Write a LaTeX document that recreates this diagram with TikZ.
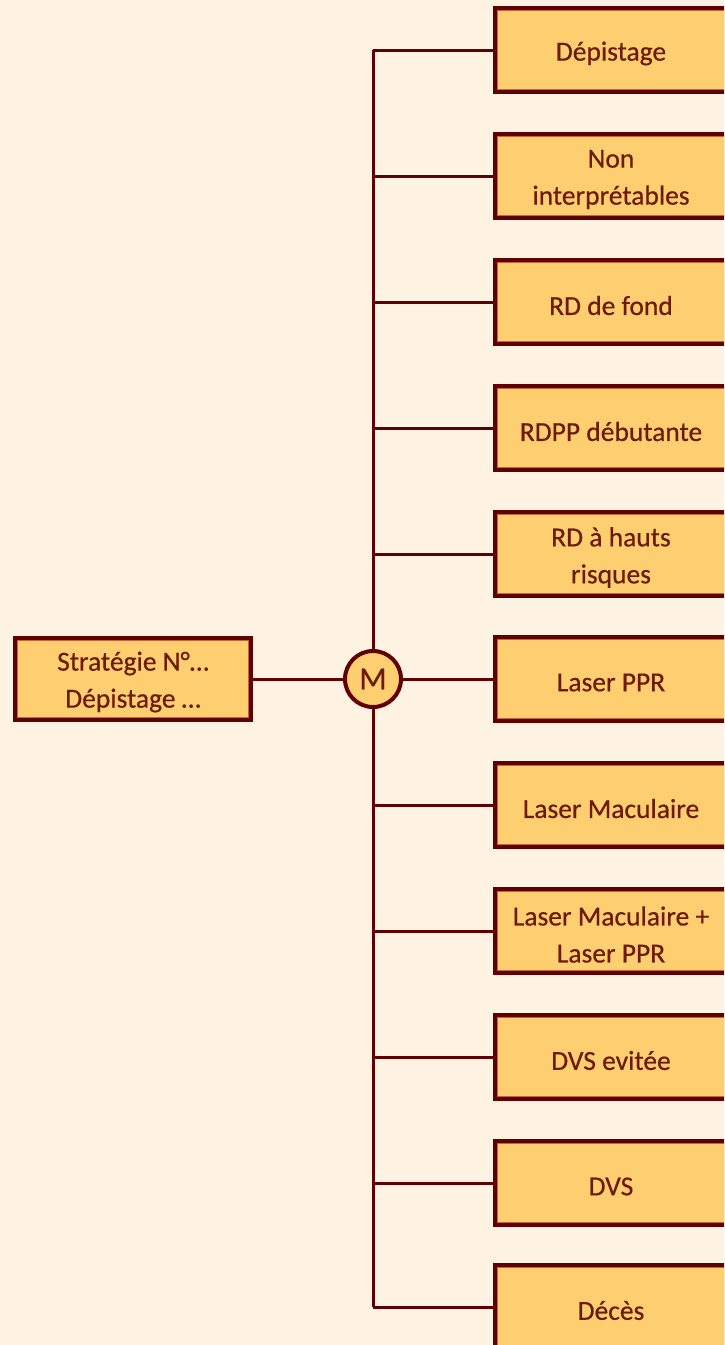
\documentclass[tikz,border=0pt]{standalone}
\usepackage{fontspec}
\setmainfont{Carlito}
\newfontfamily\boxfont[FakeBold=0.5]{Carlito}
\definecolor{bgcream}{HTML}{FEF2E3}
\definecolor{boxfill}{HTML}{FDCF70}
\definecolor{maroon}{HTML}{600000}
\definecolor{innerline}{HTML}{C0692E}
\definecolor{txtcol}{HTML}{6E1A05}
\tikzset{
  leafbox/.style={draw=maroon, line width=4pt, fill=boxfill, rectangle,
    minimum width=232pt, minimum height=84pt, inner sep=0pt,
    path picture={\draw[innerline, line width=1.2pt]
      ([shift={(2.6pt,-2.6pt)}]path picture bounding box.north west) rectangle
      ([shift={(-2.6pt,2.6pt)}]path picture bounding box.south east);}},
  rootbox/.style={leafbox, line width=4.5pt, minimum width=236pt, minimum height=82pt},
  boxtext/.style={align=center, text=txtcol, inner sep=0pt,
    font=\boxfont\fontsize{27.5pt}{37pt}\selectfont},
  hub/.style={circle, draw=maroon, line width=4pt, fill=boxfill,
    minimum size=56pt, inner sep=0pt, text=txtcol,
    font=\boxfont\fontsize{32pt}{37pt}\selectfont},
  link/.style={draw=maroon, line width=3pt}
}
\begin{document}
\begin{tikzpicture}[x=1pt, y=-1pt]
  \fill[bgcream] (0,0) rectangle (724,1345);
  \useasboundingbox (0,0) rectangle (724,1345);
  \clip (0,0) rectangle (724,1345);

  % root box, spine and hub
  \node[rootbox] (root) at (133,679) {};
  \node[boxtext] (roottext) at ([yshift=-3pt]root.center) {Stratégie N°…\\Dépistage …};
  \coordinate (top) at (373,50);
  \coordinate (bot) at (373,1307);
  \draw[link] (top) -- (bot);

  % outcome boxes
  \foreach \name/\y/\label in {
      dep/50/{Dépistage},
      nonint/176/{Non\\interprétables},
      rdfond/302/{RD de fond},
      rdpp/428/{RDPP débutante},
      rdhr/554/{RD à hauts\\risques},
      ppr/679/{Laser PPR},
      mac/805/{Laser Maculaire},
      macppr/931/{Laser Maculaire +\\Laser PPR},
      dvsev/1057/{DVS evitée},
      dvs/1183/{DVS},
      deces/1307/{Décès}} {
    \node[leafbox, anchor=west] (\name) at (493,\y) {};
    \node[boxtext] (\name-text) at ([yshift=-3.5pt]\name.center) {\label};
    \coordinate (j-\name) at (373,\y);
    \draw[link] (j-\name) -- (\name.west);
  }

  \node[hub] (m) at (373,679) {M};
  \draw[link] (root.east) -- (m.west);
\end{tikzpicture}
\end{document}
